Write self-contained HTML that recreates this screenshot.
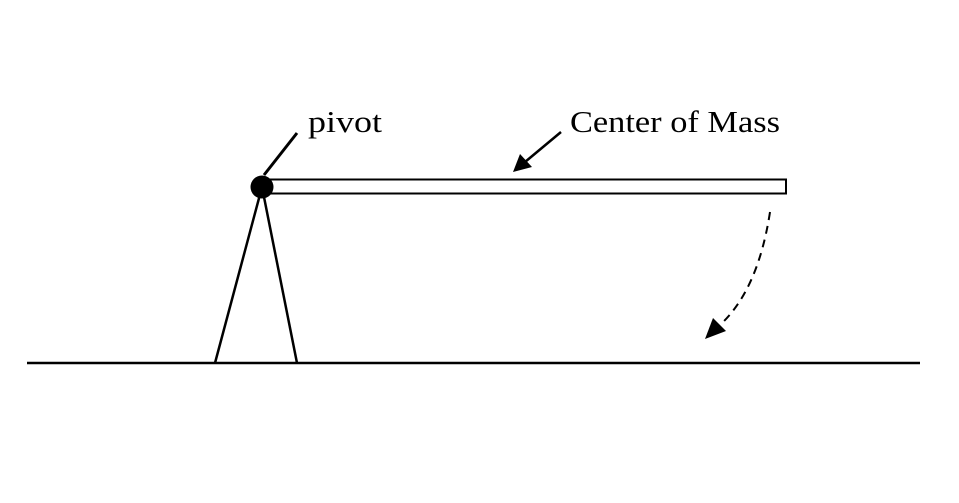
<!DOCTYPE html>
<html><head><style>html,body{margin:0;padding:0;background:#fff;}</style></head><body>
<svg width="959" height="498" viewBox="0 0 959 498" xmlns="http://www.w3.org/2000/svg">
<rect width="959" height="498" fill="#fff"/>
<line x1="27" y1="363" x2="920" y2="363" stroke="#000" stroke-width="2.5"/>
<line x1="262" y1="187" x2="215" y2="363" stroke="#000" stroke-width="2.5"/>
<line x1="262" y1="187" x2="297" y2="363" stroke="#000" stroke-width="2.5"/>
<rect x="262" y="179.5" width="524" height="14" fill="#fff" stroke="#000" stroke-width="2"/>
<circle cx="262" cy="187" r="11.5" fill="#000"/>
<line x1="297" y1="133" x2="264" y2="175" stroke="#000" stroke-width="3"/>
<line x1="561" y1="132" x2="525" y2="162" stroke="#000" stroke-width="2.5"/>
<polygon points="513,172 520,154 532,167" fill="#000"/>
<path d="M770,212 Q758,290 720,325" fill="none" stroke="#000" stroke-width="2" stroke-dasharray="8,6"/>
<polygon points="705,339 713,318 726,331" fill="#000"/>
<text x="308" y="132" font-family="Liberation Serif, serif" font-size="31" textLength="74" lengthAdjust="spacingAndGlyphs">pivot</text>
<text x="570" y="132" font-family="Liberation Serif, serif" font-size="31" textLength="210" lengthAdjust="spacingAndGlyphs">Center of Mass</text>
</svg>
</body></html>
